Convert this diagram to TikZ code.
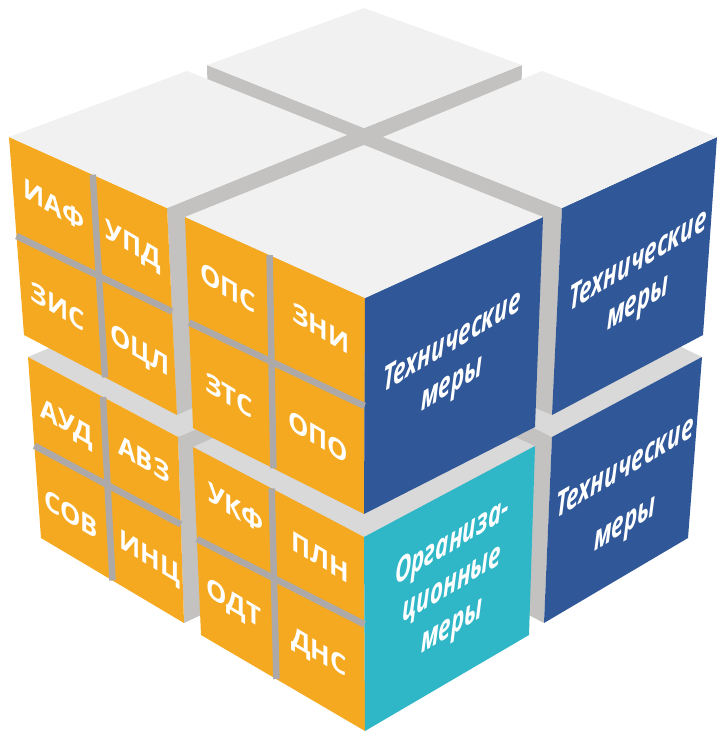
\documentclass[tikz,border=0pt]{standalone}
\usepackage{fontspec}
\setmainfont{Open Sans}
\usetikzlibrary{calc}
\definecolor{orng}{RGB}{245,169,32}
\definecolor{blu}{RGB}{48,87,152}
\definecolor{cyn}{RGB}{47,183,200}
\definecolor{topc}{RGB}{241,241,241}
\definecolor{lowtop}{RGB}{217,217,217}
\definecolor{inner}{RGB}{195,194,192}
\definecolor{gridc}{RGB}{173,169,168}
\begin{document}
\begin{tikzpicture}[x=1pt,y=-1pt,
  gridline/.style={draw=gridc,line width=6.5pt},
  lbl/.style={text=white,font=\bfseries\fontsize{27}{27}\selectfont,inner sep=0pt,yslant=-0.6,xscale=0.95},
  mer/.style={text=white,font=\bfseries\itshape\fontsize{34}{42}\selectfont,align=center,inner sep=0pt,yslant=0.6,xscale=0.66}]
\useasboundingbox (0,0) rectangle (717,733);
% ---------- coordinates ----------
% bottom-left
\coordinate (BL-L) at (28,357); \coordinate (BL-B) at (205,282); \coordinate (BL-R) at (355,362); \coordinate (BL-F) at (178,437);
\coordinate (BL-Lb) at (41,538); \coordinate (BL-Fb) at (184,623); \coordinate (BL-Rb) at (350,545);
% bottom-right
\coordinate (BR-L) at (392,357); \coordinate (BR-B) at (542,280); \coordinate (BR-R) at (702,357); \coordinate (BR-F) at (552,437);
\coordinate (BR-Lb) at (395,545); \coordinate (BR-Fb) at (544,623); \coordinate (BR-Rb) at (688,538);
% bottom-front
\coordinate (BF-L) at (193,447); \coordinate (BF-B) at (364,370); \coordinate (BF-R) at (535,446); \coordinate (BF-F) at (364,537);
\coordinate (BF-Lb) at (201,635); \coordinate (BF-Fb) at (365,731); \coordinate (BF-Rb) at (529,635);
% top-back
\coordinate (TB-L) at (207,65); \coordinate (TB-B) at (364,8); \coordinate (TB-R) at (522,65); \coordinate (TB-F) at (364,128);
\coordinate (TB-Lb) at (212,275); \coordinate (TB-Fb) at (364,340); \coordinate (TB-Rb) at (517,275);
% top-left
\coordinate (TL-L) at (9,137); \coordinate (TL-B) at (187,71); \coordinate (TL-R) at (347,135); \coordinate (TL-F) at (167,208);
\coordinate (TL-Lb) at (24,335); \coordinate (TL-Fb) at (177,415); \coordinate (TL-Rb) at (343,340);
% top-right
\coordinate (TR-L) at (383,137); \coordinate (TR-B) at (542,71); \coordinate (TR-R) at (717,137); \coordinate (TR-F) at (562,208);
\coordinate (TR-Lb) at (386,345); \coordinate (TR-Fb) at (552,415); \coordinate (TR-Rb) at (703,335);
% top-front
\coordinate (TF-L) at (185,217); \coordinate (TF-B) at (364,145); \coordinate (TF-R) at (543,217); \coordinate (TF-F) at (365,298);
\coordinate (TF-Lb) at (193,428); \coordinate (TF-Fb) at (364,514); \coordinate (TF-Rb) at (535,427);
% ---------- bottom layer ----------
\fill[lowtop] (BL-L) -- (BL-B) -- (BL-R) -- (BL-F) -- cycle;
\fill[inner] (BL-F) -- (BL-R) -- (BL-Rb) -- (BL-Fb) -- cycle;
\fill[orng] (BL-L) -- (BL-F) -- (BL-Fb) -- (BL-Lb) -- cycle;
\fill[lowtop] (BR-L) -- (BR-B) -- (BR-R) -- (BR-F) -- cycle;
\fill[inner] (BR-L) -- (BR-F) -- (BR-Fb) -- (BR-Lb) -- cycle;
\fill[blu] (BR-F) -- (BR-R) -- (BR-Rb) -- (BR-Fb) -- cycle;
\fill[lowtop] (BF-L) -- (BF-B) -- (BF-R) -- (BF-F) -- cycle;
\fill[orng] (BF-L) -- (BF-F) -- (BF-Fb) -- (BF-Lb) -- cycle;
\fill[cyn] (BF-F) -- (BF-R) -- (BF-Rb) -- (BF-Fb) -- cycle;
% ---------- top layer ----------
\fill[inner] (TB-L) -- (TB-F) -- (TB-Fb) -- (TB-Lb) -- cycle;
\fill[inner] (TB-F) -- (TB-R) -- (TB-Rb) -- (TB-Fb) -- cycle;
\fill[topc] (TB-L) -- (TB-B) -- (TB-R) -- (TB-F) -- cycle;
\fill[inner] (TL-F) -- (TL-R) -- (TL-Rb) -- (TL-Fb) -- cycle;
\fill[orng] (TL-L) -- (TL-F) -- (TL-Fb) -- (TL-Lb) -- cycle;
\fill[topc] (TL-L) -- (TL-B) -- (TL-R) -- (TL-F) -- cycle;
\fill[inner] (TR-L) -- (TR-F) -- (TR-Fb) -- (TR-Lb) -- cycle;
\fill[blu] (TR-F) -- (TR-R) -- (TR-Rb) -- (TR-Fb) -- cycle;
\fill[topc] (TR-L) -- (TR-B) -- (TR-R) -- (TR-F) -- cycle;
\fill[orng] (TF-L) -- (TF-F) -- (TF-Fb) -- (TF-Lb) -- cycle;
\fill[blu] (TF-F) -- (TF-R) -- (TF-Rb) -- (TF-Fb) -- cycle;
\fill[topc] (TF-L) -- (TF-B) -- (TF-R) -- (TF-F) -- cycle;
% ---------- grid lines on orange faces ----------
\draw[gridline] ($(TL-L)!0.53!(TL-F)$) -- ($(TL-Lb)!0.53!(TL-Fb)$);
\draw[gridline] ($(TL-L)!0.5!(TL-Lb)$) -- ($(TL-F)!0.5!(TL-Fb)$);
\draw[gridline] ($(TF-L)!0.47!(TF-F)$) -- ($(TF-Lb)!0.47!(TF-Fb)$);
\draw[gridline] ($(TF-L)!0.5!(TF-Lb)$) -- ($(TF-F)!0.5!(TF-Fb)$);
\draw[gridline] ($(BL-L)!0.5!(BL-F)$) -- ($(BL-Lb)!0.5!(BL-Fb)$);
\draw[gridline] ($(BL-L)!0.49!(BL-Lb)$) -- ($(BL-F)!0.47!(BL-Fb)$);
\draw[gridline] ($(BF-L)!0.46!(BF-F)$) -- ($(BF-Lb)!0.46!(BF-Fb)$);
\draw[gridline] ($(BF-L)!0.49!(BF-Lb)$) -- ($(BF-F)!0.45!(BF-Fb)$);
% ---------- labels ----------
\node[lbl] (iaf) at (54,205) {ИАФ};
\node[lbl] (upd) at (133,247) {УПД};
\node[lbl] (zis) at (58,306) {ЗИС};
\node[lbl] (ocl) at (140,352) {ОЦЛ};
\node[lbl] (ops) at (228,288) {ОПС};
\node[lbl] (zni) at (321,328) {ЗНИ};
\node[lbl] (zts) at (229,395) {ЗТС};
\node[lbl] (opo) at (318,437) {ОПО};
\node[lbl] (aud) at (67,425) {АУД};
\node[lbl] (avz) at (144,459) {АВЗ};
\node[lbl] (sov) at (71,514) {СОВ};
\node[lbl] (inc) at (150,559) {ИНЦ};
\node[lbl] (ukf) at (236,508) {УКФ};
\node[lbl] (pln) at (320,557) {ПЛН};
\node[lbl] (odt) at (234,605) {ОДТ};
\node[lbl] (dns) at (319,654) {ДНС};
\node[mer] (tm1) at (452,364) {Технические\\меры};
\node[mer] (tm2) at (638,283) {Технические\\меры};
\node[mer,font=\bfseries\itshape\fontsize{34}{56}\selectfont] (tm3) at (625,497) {Технические\\меры};
\node[mer] (om) at (452,585) {Организа-\\ционные\\меры};
\end{tikzpicture}
\end{document}
